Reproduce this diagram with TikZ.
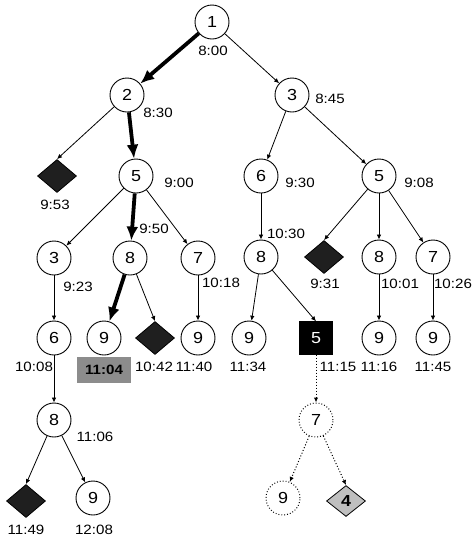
\documentclass[tikz,border=0pt]{standalone}
\usepackage{fontspec}
\setmainfont{Liberation Sans}[FakeStretch=1.12]
\usetikzlibrary{shapes.geometric,arrows.meta}
\begin{document}
\begin{tikzpicture}[x=1pt,y=-1pt,
  st/.style={circle,draw,line width=0.9pt,minimum size=34pt,inner sep=0pt,font=\fontsize{16}{16}\selectfont},
  dst/.style={st,dotted,line width=1pt},
  dia/.style={diamond,draw,fill=black!88,line width=0.8pt,minimum width=39pt,minimum height=33pt,inner sep=0pt},
  ldia/.style={diamond,draw,fill=black!25,line width=0.8pt,minimum width=39pt,minimum height=31pt,inner sep=0pt,font=\fontsize{16}{16}\selectfont\bfseries},
  sq/.style={rectangle,draw,fill=black,text=white,minimum size=33pt,inner sep=0pt,font=\fontsize{16}{16}\selectfont},
  lab/.style={inner sep=0pt,font=\fontsize{13.5}{13.5}\selectfont},
  e/.style={line width=0.8pt,-{Latex[length=5pt,width=4.5pt]}},
  te/.style={line width=3.8pt,-{Latex[length=14pt,width=12pt]}},
  de/.style={line width=1pt,dotted,-{Latex[length=5pt,width=4.5pt]}}]
\useasboundingbox (0,0) rectangle (474,539);
% nodes
\node[st] (n1) at (212,22) {1};
\node[st] (n2) at (127,95) {2};
\node[st] (n3) at (292,95) {3};
\node[dia] (d1) at (57,176) {};
\node[st] (n5a) at (136,176) {5};
\node[st] (n6b) at (261,176) {6};
\node[st] (n5b) at (379,176) {5};
\node[st] (n3c) at (54,258) {3};
\node[st] (n8c) at (130,258) {8};
\node[st] (n7c) at (198,258) {7};
\node[st] (n8f) at (261,257) {8};
\node[dia] (d2) at (324,257) {};
\node[st] (n8g) at (379,257) {8};
\node[st] (n7g) at (433,257) {7};
\node[st] (n6d) at (54,338) {6};
\node[st] (n9d) at (104,338) {9};
\node[dia] (d3) at (155,338) {};
\node[st] (n9e) at (198,338) {9};
\node[st] (n9f) at (249,338) {9};
\node[sq] (s5) at (316,338) {5};
\node[st] (n9g) at (379,338) {9};
\node[st] (n9h) at (433,338) {9};
\node[st] (n8h) at (54,420) {8};
\node[dst] (n7h) at (316,420) {7};
\node[dia] (d4) at (26,501) {};
\node[st] (n9i) at (93,498) {9};
\node[dst] (n9j) at (283,498) {9};
\node[ldia] (d5) at (346,501) {4};
% labels
\node[lab] (l1) at (213,51) {8:00};
\node[lab] (l2) at (158,113) {8:30};
\node[lab] (l3) at (330,99) {8:45};
\node[lab] (ld1) at (55,205) {9:53};
\node[lab] (l5a) at (179,183) {9:00};
\node[lab] (l6b) at (300,183) {9:30};
\node[lab] (l5b) at (419,183) {9:08};
\node[lab] (l3c) at (78,287) {9:23};
\node[lab] (l8c) at (154,229) {9:50};
\node[lab] (l7c) at (221,283) {10:18};
\node[lab] (l8f) at (286,234) {10:30};
\node[lab] (ld2) at (325,284) {9:31};
\node[lab] (l8g) at (400,284) {10:01};
\node[lab] (l7g) at (453,284) {10:26};
\node[lab] (l6d) at (34,367) {10:08};
\node[lab,fill=black!45,minimum width=54pt,minimum height=26pt,font=\fontsize{13.5}{13.5}\selectfont\bfseries] (l9d) at (104,370) {11:04};
\node[lab] (ld3) at (154,367) {10:42};
\node[lab] (l9e) at (194,367) {11:40};
\node[lab] (l9f) at (248,367) {11:34};
\node[lab] (ls5) at (338,367) {11:15};
\node[lab] (l9g) at (379,367) {11:16};
\node[lab] (l9h) at (433,367) {11:45};
\node[lab] (l8h) at (95,437) {11:06};
\node[lab] (ld4) at (26,530) {11:49};
\node[lab] (l9i) at (94,530) {12:08};
% edges
\draw[te] (n1) -- (n2);
\draw[e] (n1) -- (n3);
\draw[e] (n2) -- (d1.north);
\draw[te] (n2) -- (n5a);
\draw[e] (n3) -- (n6b);
\draw[e] (n3) -- (n5b);
\draw[e] (n5a) -- (n3c);
\draw[te] (n5a) -- (n8c);
\draw[e] (n5a) -- (n7c);
\draw[e] (n6b) -- (n8f);
\draw[e] (n5b) -- (d2.north);
\draw[e] (n5b) -- (n8g);
\draw[e] (n5b) -- (n7g);
\draw[e] (n3c) -- (n6d);
\draw[te] (n8c) -- (n9d);
\draw[e] (n8c) -- (d3.north);
\draw[e] (n7c) -- (n9e);
\draw[e] (n8f) -- (n9f);
\draw[e] (n8f) -- (s5.north);
\draw[e] (n8g) -- (n9g);
\draw[e] (n7g) -- (n9h);
\draw[e] (n6d) -- (n8h);
\draw[de] (s5) -- (n7h);
\draw[e] (n8h) -- (d4.north);
\draw[e] (n8h) -- (n9i);
\draw[de] (n7h) -- (n9j);
\draw[de] (n7h) -- (d5.north);
\end{tikzpicture}
\end{document}
